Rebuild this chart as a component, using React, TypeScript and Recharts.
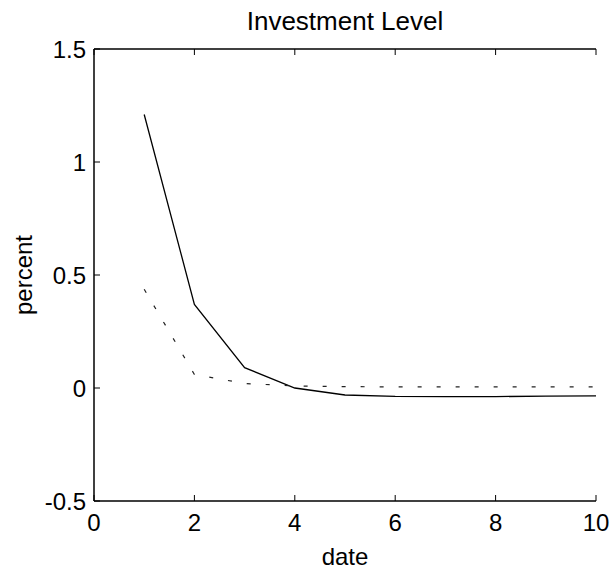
import React from 'react';
import { LineChart, Line, XAxis, YAxis, Label } from 'recharts';

const dates = [1, 2, 3, 4, 5, 6, 7, 8, 9, 10];
const solidSeries = [1.21, 0.37, 0.09, 0.0, -0.031, -0.037, -0.038, -0.038, -0.036, -0.035];
const dottedSeries = [0.437, 0.06, 0.02, 0.009, 0.006, 0.005, 0.005, 0.005, 0.005, 0.005];
const xTicks = [0, 2, 4, 6, 8, 10];
const yTicks = [-0.5, 0, 0.5, 1, 1.5];

const data = dates.map((d, i) => ({ date: d, solid: solidSeries[i], dotted: dottedSeries[i] }));

const FONT = 'Liberation Sans, Arial, sans-serif';

export default function App() {
  return (
    <div style={{ position: 'absolute', left: 0, top: 0, background: '#fff' }}>
      <LineChart width={614} height={575} data={data} margin={{ top: 0, right: 18, left: 0, bottom: 0 }}>
        <XAxis
          xAxisId="bottom"
          dataKey="date"
          type="number"
          domain={[0, 10]}
          ticks={xTicks}
          orientation="bottom"
          height={74}
          tickSize={-6}
          tickMargin={19}
          axisLine={{ stroke: '#000', strokeWidth: 1.5 }}
          tickLine={{ stroke: '#000', strokeWidth: 1 }}
          tick={{ fill: '#000', fontSize: 24, fontFamily: FONT }}
        >
          <Label
            content={() => (
              <text x={345} y={565} textAnchor="middle" fontSize={24} fontFamily={FONT} fill="#000">
                date
              </text>
            )}
          />
        </XAxis>
        <XAxis
          xAxisId="top"
          dataKey="date"
          type="number"
          domain={[0, 10]}
          ticks={xTicks}
          orientation="top"
          height={49}
          tickSize={-6}
          tickFormatter={() => ''}
          axisLine={{ stroke: '#000', strokeWidth: 1.5 }}
          tickLine={{ stroke: '#000', strokeWidth: 1 }}
        >
          <Label
            content={() => (
              <text x={345} y={30} textAnchor="middle" fontSize={26} fontFamily={FONT} fill="#000">
                Investment Level
              </text>
            )}
          />
        </XAxis>
        <YAxis
          yAxisId="left"
          type="number"
          domain={[-0.5, 1.5]}
          ticks={yTicks}
          orientation="left"
          width={94}
          tickSize={-6}
          tickMargin={14}
          axisLine={{ stroke: '#000', strokeWidth: 1.5 }}
          tickLine={{ stroke: '#000', strokeWidth: 1 }}
          tick={{ fill: '#000', fontSize: 24, fontFamily: FONT }}
        >
          <Label
            content={() => (
              <text
                x={23}
                y={275}
                transform="rotate(-90, 23, 275)"
                textAnchor="middle"
                dominantBaseline="central"
                fontSize={24}
                fontFamily={FONT}
                fill="#000"
              >
                percent
              </text>
            )}
          />
        </YAxis>
        <YAxis
          yAxisId="right"
          type="number"
          domain={[-0.5, 1.5]}
          ticks={yTicks}
          orientation="right"
          width={0}
          tickSize={-6}
          tickFormatter={() => ''}
          axisLine={{ stroke: '#000', strokeWidth: 1.5 }}
          tickLine={{ stroke: '#000', strokeWidth: 1 }}
        />
        <Line
          xAxisId="bottom"
          yAxisId="left"
          dataKey="solid"
          stroke="#000"
          strokeWidth={1.3}
          dot={false}
          isAnimationActive={false}
        />
        <Line
          xAxisId="bottom"
          yAxisId="left"
          dataKey="dotted"
          stroke="#222"
          strokeWidth={1.2}
          strokeDasharray="4 15"
          dot={false}
          isAnimationActive={false}
        />
      </LineChart>
    </div>
  );
}
